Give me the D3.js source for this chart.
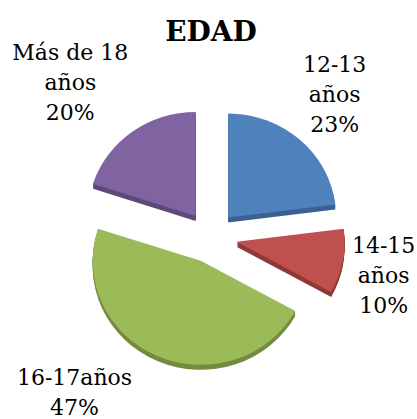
<!DOCTYPE html>
<html>
<head>
<meta charset="utf-8">
<script src="https://cdn.jsdelivr.net/npm/d3@7"></script>
<style>
  html, body { margin: 0; padding: 0; background: #fff; }
  svg { display: block; }
</style>
</head>
<body>
<div id="chart"></div>
<script>
// data
const title = 'EDAD'
const categories = ['12-13 años', '14-15 años', '16-17años', 'Más de 18 años']
const values = [23, 10, 47, 20]
const labelLines = [['12-13', 'años'], ['14-15', 'años'], ['16-17años'], ['Más de 18', 'años']]

// colours (office style)
const topColors = ['#4f81bd', '#c0504d', '#9bbb59', '#8064a2']
const sideColors = ['#3a6293', '#8e3a38', '#738c40', '#5d4a7a']

const svgSize = { width: 417, height: 419 }
const center = { x: 211, y: 237 }
const rx = 108
const ry = 104
const depth = 5
const explode = 26
const labelRadius = 190
const labelNudge = [[-2, 0], [-14, 2], [-61, -19], [-29, -1]]
const lineHeight = 30

const svg = d3.select('#chart')
  .append('svg')
  .attr('width', svgSize.width)
  .attr('height', svgSize.height)

svg.append('text')
  .attr('x', 211)
  .attr('y', 41)
  .attr('text-anchor', 'middle')
  .attr('font-family', "Georgia, 'DejaVu Serif', serif")
  .attr('font-weight', 'bold')
  .attr('font-size', '28px')
  .text(title)

const pie = d3.pie().sort(null).value(d => d)
const arcs = pie(values).map((d, i) => {
  const mid = (d.startAngle + d.endAngle) / 2
  return { ...d, i, mid }
})

const arc = d3.arc().innerRadius(0).outerRadius(rx)
const squash = ry / rx

// back slices first
const order = arcs.slice().sort((a, b) => -Math.cos(a.mid) - -Math.cos(b.mid))

const slices = svg.selectAll('.slice')
  .data(order)
  .enter().append('g')
  .attr('class', 'slice')
  .attr('transform', d => `translate(${center.x + explode * Math.sin(d.mid)},${center.y - explode * Math.cos(d.mid)})`)

// extruded side
slices.each(function (d) {
  const g = d3.select(this)
  for (let k = depth; k >= 1; k--) {
    g.append('path')
      .attr('d', arc(d))
      .attr('transform', `translate(0,${k}) scale(1,${squash})`)
      .attr('fill', sideColors[d.i])
  }
})

slices.append('path')
  .attr('d', d => arc(d))
  .attr('transform', `scale(1,${squash})`)
  .attr('fill', d => topColors[d.i])

// labels
const labels = svg.selectAll('.label')
  .data(arcs)
  .enter().append('text')
  .attr('class', 'label')
  .attr('text-anchor', 'middle')
  .attr('font-family', "Georgia, 'DejaVu Serif', serif")
  .attr('font-size', '22px')
  .attr('fill', '#000')

labels.each(function (d) {
  const lines = labelLines[d.i].concat([`${values[d.i]}%`])
  const lx = center.x + labelRadius * Math.sin(d.mid) + labelNudge[d.i][0]
  const ly = center.y - labelRadius * Math.cos(d.mid) + labelNudge[d.i][1]
  const y0 = ly - (lines.length - 1) / 2 * lineHeight + 8
  d3.select(this).selectAll('tspan')
    .data(lines)
    .enter().append('tspan')
    .attr('x', lx)
    .attr('y', (t, j) => y0 + j * lineHeight)
    .text(t => t)
})
</script>
</body>
</html>
